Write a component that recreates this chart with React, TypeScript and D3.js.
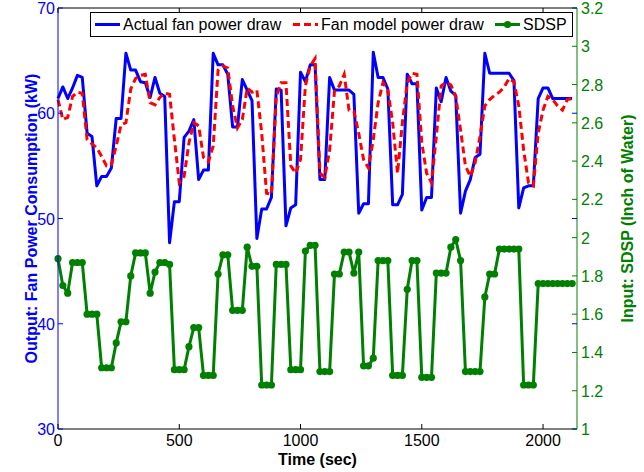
import React, { useEffect, useRef } from 'react';
import * as d3 from 'd3';

// sample times (sec)
const timeSec = [
  0, 20, 40, 60, 80, 100, 120, 140, 160, 180, 200, 220, 240, 260, 280, 300, 320, 340, 360, 380,
  400, 420, 440, 460, 480, 500, 520, 540, 560, 580, 600, 620, 640, 660, 680, 700, 720, 740, 760, 780,
  800, 820, 840, 860, 880, 900, 920, 940, 960, 980, 1000, 1020, 1040, 1060, 1080, 1100, 1120, 1140, 1160, 1180,
  1200, 1220, 1240, 1260, 1280, 1300, 1320, 1340, 1360, 1380, 1400, 1420, 1440, 1460, 1480, 1500, 1520, 1540, 1560, 1580,
  1600, 1620, 1640, 1660, 1680, 1700, 1720, 1740, 1760, 1780, 1800, 1820, 1840, 1860, 1880, 1900, 1920, 1940, 1960, 1980,
  2000, 2020, 2040, 2060, 2080, 2100, 2120,
];

// kW
const actualPower = [
  61.4, 62.5, 61.4, 62.4, 63.6, 63.4, 58.1, 57.8, 53.1, 54.0, 54.0, 54.8, 59.5, 59.5, 65.7, 64.1, 64.1, 63.0, 62.9, 61.5,
  63.4, 61.9, 61.6, 47.7, 51.6, 51.6, 57.7, 58.3, 59.4, 53.7, 54.6, 54.6, 65.7, 64.6, 64.6, 63.7, 58.7, 58.7, 63.2, 62.2,
  61.2, 48.1, 50.9, 50.9, 52.0, 62.3, 62.2, 49.3, 51.0, 51.3, 63.9, 63.0, 64.6, 64.6, 53.7, 53.7, 63.4, 62.2, 62.2, 62.2,
  62.2, 61.8, 50.5, 51.4, 51.4, 65.8, 63.4, 63.4, 62.3, 51.3, 51.3, 52.3, 63.7, 62.8, 62.8, 50.8, 52.0, 52.0, 62.4, 61.1,
  63.4, 62.1, 61.7, 50.5, 52.6, 53.7, 55.8, 56.1, 65.7, 63.8, 63.8, 63.8, 63.8, 63.8, 63.1, 51.0, 52.9, 53.1, 53.1, 61.4,
  62.4, 62.4, 61.4, 61.4, 61.4, 61.4, 61.4,
];

// kW
const modelPower = [
  61.3, 59.4, 59.6, 61.6, 62.0, 61.9, 57.5, 57.1, 56.7, 55.9, 55.0, 55.1, 56.9, 58.9, 59.1, 62.3, 63.3, 63.6, 63.7, 61.0,
  60.8, 61.5, 61.9, 61.8, 57.5, 53.4, 54.0, 57.2, 59.1, 58.8, 55.8, 55.4, 56.9, 64.1, 64.5, 64.3, 60.7, 58.6, 59.4, 62.4,
  62.0, 62.2, 58.1, 52.4, 52.3, 61.6, 62.9, 62.9, 55.0, 54.3, 55.6, 62.6, 64.5, 65.2, 54.3, 53.9, 56.5, 62.1, 62.6, 63.7,
  60.3, 60.2, 58.1, 55.6, 54.8, 57.5, 61.0, 62.9, 62.2, 59.1, 54.3, 59.1, 62.9, 63.8, 63.7, 57.2, 54.3, 53.4, 57.8, 62.6,
  62.9, 62.7, 61.6, 58.4, 55.0, 54.0, 55.3, 57.8, 60.7, 61.3, 61.7, 62.0, 62.5, 63.3, 63.0, 60.7, 56.5, 53.4, 53.1, 58.1,
  60.3, 61.6, 61.3, 60.7, 60.3, 61.3, 61.4,
];

// inch of water
const sdsp = [
  1.89, 1.75, 1.71, 1.87, 1.87, 1.87, 1.6, 1.6, 1.6, 1.32, 1.32, 1.32, 1.45, 1.56, 1.56, 1.8, 1.92, 1.92, 1.92, 1.71,
  1.82, 1.87, 1.87, 1.86, 1.31, 1.31, 1.31, 1.43, 1.53, 1.53, 1.28, 1.28, 1.28, 1.81, 1.91, 1.91, 1.62, 1.62, 1.62, 1.95,
  1.85, 1.85, 1.23, 1.23, 1.23, 1.86, 1.86, 1.86, 1.31, 1.31, 1.31, 1.93, 1.96, 1.96, 1.3, 1.3, 1.3, 1.81, 1.81, 1.925,
  1.925, 1.815, 1.925, 1.33, 1.33, 1.37, 1.88, 1.88, 1.88, 1.28, 1.28, 1.28, 1.73, 1.88, 1.88, 1.27, 1.27, 1.27, 1.815, 1.815,
  1.815, 1.95, 1.99, 1.88, 1.3, 1.3, 1.3, 1.3, 1.69, 1.81, 1.81, 1.94, 1.94, 1.94, 1.94, 1.94, 1.23, 1.23, 1.23, 1.76,
  1.76, 1.76, 1.76, 1.76, 1.76, 1.76, 1.76,
];

const xTicks = [0, 500, 1000, 1500, 2000];
const powerTicks = [30, 40, 50, 60, 70];
const sdspTicks = [1, 1.2, 1.4, 1.6, 1.8, 2, 2.2, 2.4, 2.6, 2.8, 3, 3.2];
const legendLabels = ['Actual fan power draw', 'Fan model power draw', 'SDSP'];

const W = 644;
const H = 472;
const FONT = '"Liberation Sans", Arial, Helvetica, sans-serif';
const BLUE = '#0000ff';
const RED = '#ff0000';
const GREEN = '#008000';

const App = () => {
  const svgRef = useRef(null);

  useEffect(() => {
    const svg = d3.select(svgRef.current);
    svg.selectAll('*').remove();

    const m = { left: 58, right: 577, top: 8, bottom: 429 };

    const x = d3.scaleLinear().domain([0, 2140]).range([m.left, m.right]);
    const yL = d3.scaleLinear().domain([30, 70]).range([m.bottom, m.top]);
    const yR = d3.scaleLinear().domain([1, 3.2]).range([m.bottom, m.top]);

    svg.append('rect').attr('width', W).attr('height', H).attr('fill', '#fff');

    const plot = svg.append('g');

    // green SDSP line + markers
    const sdLine = d3.line<number>().x((d, i) => x(timeSec[i])).y((d) => yR(d));
    plot.append('path')
      .attr('d', sdLine(sdsp))
      .attr('fill', 'none')
      .attr('stroke', GREEN)
      .attr('stroke-width', 3)
      .attr('stroke-linejoin', 'round');
    plot.selectAll('circle.sd')
      .data(sdsp)
      .join('circle')
      .attr('class', 'sd')
      .attr('cx', (d, i) => x(timeSec[i]))
      .attr('cy', (d) => yR(d))
      .attr('r', 3.6)
      .attr('fill', GREEN);

    const pLine = d3.line<number>().x((d, i) => x(timeSec[i])).y((d) => yL(d));
    plot.append('path')
      .attr('d', pLine(actualPower))
      .attr('fill', 'none')
      .attr('stroke', BLUE)
      .attr('stroke-width', 3)
      .attr('stroke-linejoin', 'round');
    plot.append('path')
      .attr('d', pLine(modelPower))
      .attr('fill', 'none')
      .attr('stroke', RED)
      .attr('stroke-width', 3)
      .attr('stroke-dasharray', '7,4');

    // frame
    const ax = svg.append('g').attr('font-family', FONT).attr('font-size', 16);
    ax.append('line').attr('x1', m.left).attr('x2', m.right).attr('y1', m.bottom).attr('y2', m.bottom).attr('stroke', '#000');
    ax.append('line').attr('x1', m.left).attr('x2', m.right).attr('y1', m.top).attr('y2', m.top).attr('stroke', '#000');
    ax.append('line').attr('x1', m.left).attr('x2', m.left).attr('y1', m.top).attr('y2', m.bottom).attr('stroke', BLUE);
    ax.append('line').attr('x1', m.right).attr('x2', m.right).attr('y1', m.top).attr('y2', m.bottom).attr('stroke', GREEN);

    const tk = 5;
    xTicks.forEach((t) => {
      ax.append('line').attr('x1', x(t)).attr('x2', x(t)).attr('y1', m.bottom).attr('y2', m.bottom - tk).attr('stroke', '#000');
      ax.append('line').attr('x1', x(t)).attr('x2', x(t)).attr('y1', m.top).attr('y2', m.top + tk).attr('stroke', '#000');
      ax.append('text').attr('x', x(t)).attr('y', m.bottom + 17).attr('text-anchor', 'middle').attr('fill', '#000').text(t);
    });
    powerTicks.forEach((t) => {
      ax.append('line').attr('x1', m.left).attr('x2', m.left + tk).attr('y1', yL(t)).attr('y2', yL(t)).attr('stroke', BLUE);
      ax.append('line').attr('x1', m.right).attr('x2', m.right - tk).attr('y1', yL(t)).attr('y2', yL(t)).attr('stroke', BLUE);
      ax.append('text').attr('x', m.left - 3).attr('y', yL(t) + 6).attr('text-anchor', 'end').attr('fill', BLUE).text(t);
    });
    sdspTicks.forEach((t) => {
      ax.append('line').attr('x1', m.right).attr('x2', m.right - tk).attr('y1', yR(t)).attr('y2', yR(t)).attr('stroke', GREEN);
      ax.append('text').attr('x', m.right + 4).attr('y', yR(t) + 6).attr('text-anchor', 'start').attr('fill', GREEN).text(d3.format('~g')(t));
    });

    ax.append('text')
      .attr('x', (m.left + m.right) / 2)
      .attr('y', 465)
      .attr('text-anchor', 'middle')
      .attr('font-weight', 'bold')
      .text('Time (sec)');
    ax.append('text')
      .attr('transform', `translate(37,${(m.top + m.bottom) / 2}) rotate(-90)`)
      .attr('text-anchor', 'middle')
      .attr('font-weight', 'bold')
      .attr('fill', BLUE)
      .text('Output: Fan Power Consumption (kW)');
    ax.append('text')
      .attr('transform', `translate(633,${(m.top + m.bottom) / 2}) rotate(-90)`)
      .attr('text-anchor', 'middle')
      .attr('font-weight', 'bold')
      .attr('fill', GREEN)
      .text('Input: SDSP (Inch of Water)');

    // legend
    const lg = svg.append('g').attr('font-family', FONT).attr('font-size', 16);
    lg.append('rect').attr('x', 90.5).attr('y', 12.5).attr('width', 482).attr('height', 24).attr('fill', '#fff').attr('stroke', '#000');
    const starts = [95, 293, 495];
    const styles = [
      { c: BLUE, dash: null, dot: false },
      { c: RED, dash: '7,4', dot: false },
      { c: GREEN, dash: null, dot: true },
    ];
    legendLabels.forEach((lab, i) => {
      const sx = starts[i];
      const s = styles[i];
      lg.append('line')
        .attr('x1', sx).attr('x2', sx + 25).attr('y1', 24.5).attr('y2', 24.5)
        .attr('stroke', s.c).attr('stroke-width', 3)
        .attr('stroke-dasharray', s.dash);
      if (s.dot) lg.append('circle').attr('cx', sx + 12.5).attr('cy', 24.5).attr('r', 3.6).attr('fill', s.c);
      lg.append('text').attr('x', sx + 28).attr('y', 30).attr('fill', '#000').text(lab);
    });
  }, []);

  return <svg ref={svgRef} width={W} height={H} style={{ position: 'absolute', left: 0, top: 0 }} />;
};

export default App;
